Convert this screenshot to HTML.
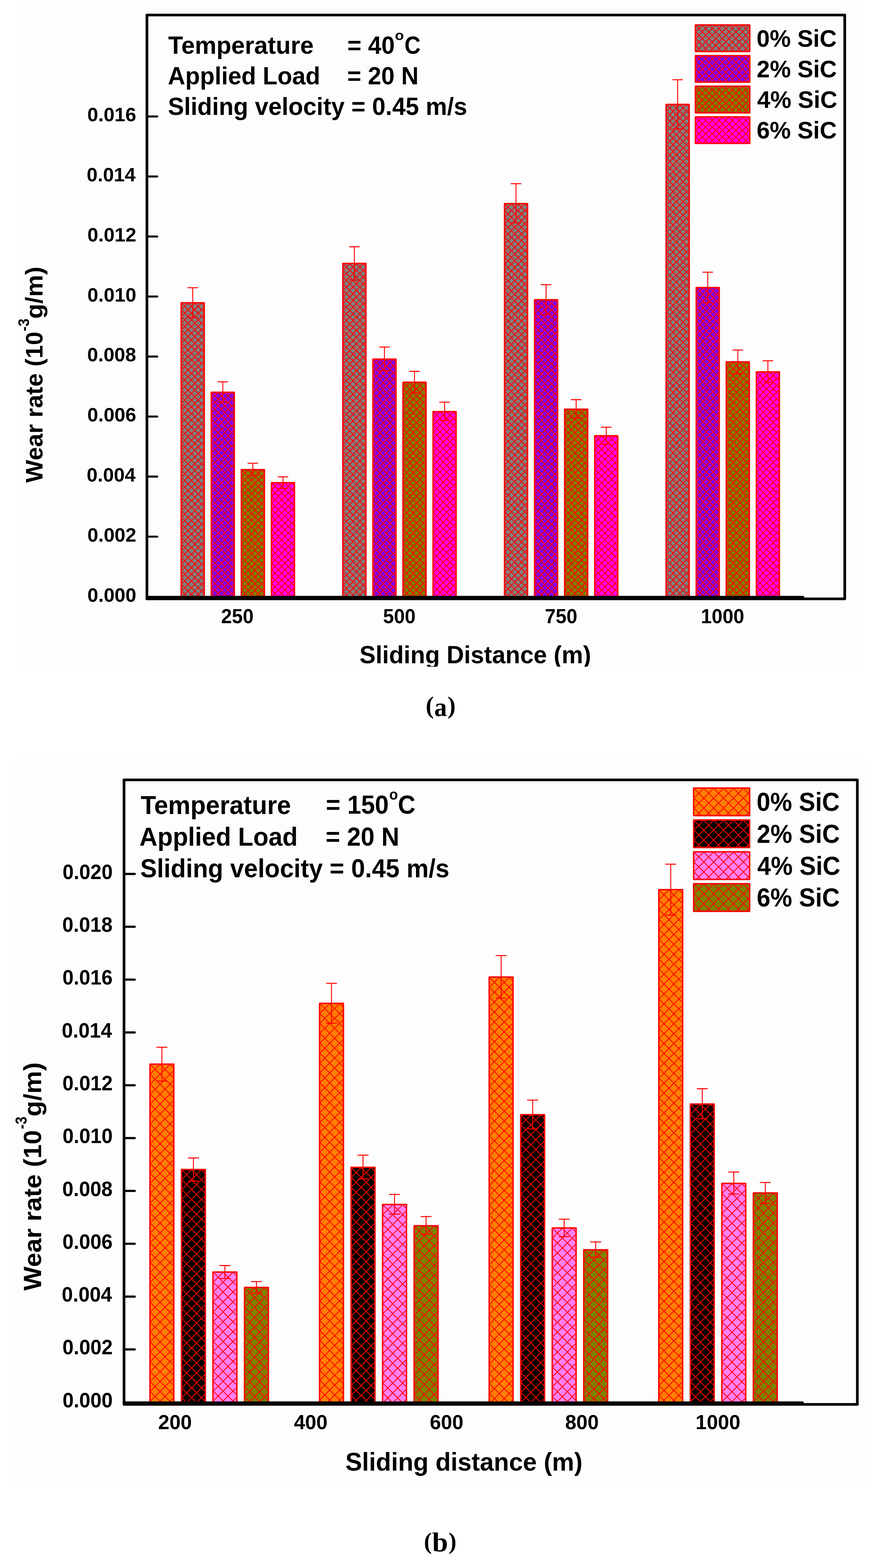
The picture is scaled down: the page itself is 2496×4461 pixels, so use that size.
<!DOCTYPE html><html><head><meta charset="utf-8"><title>Wear rate vs sliding distance</title><style>html,body{margin:0;padding:0;background:#fff;width:2496px;height:4461px;overflow:hidden;}svg{display:block;}</style></head><body>
<svg width="2496" height="4461" viewBox="0 0 2496 4461">
<defs>
<pattern id="ga" patternUnits="userSpaceOnUse" width="19.05" height="19.05">
<rect width="19.05" height="19.05" fill="#808080"/>
<path d="M-1,-1L20.05,20.05M-1,18.05L1,20.05M18.05,-1L20.05,1M20.05,-1L-1,20.05M1,-1L-1,1M20.05,18.05L18.05,20.05" stroke="#ff0000" stroke-width="2.6" fill="none"/>
</pattern>
<pattern id="pa" patternUnits="userSpaceOnUse" width="19.05" height="19.05">
<rect width="19.05" height="19.05" fill="#8000ff"/>
<path d="M-1,-1L20.05,20.05M-1,18.05L1,20.05M18.05,-1L20.05,1M20.05,-1L-1,20.05M1,-1L-1,1M20.05,18.05L18.05,20.05" stroke="#ff0000" stroke-width="2.6" fill="none"/>
</pattern>
<pattern id="oa" patternUnits="userSpaceOnUse" width="19.05" height="19.05">
<rect width="19.05" height="19.05" fill="#808000"/>
<path d="M-1,-1L20.05,20.05M-1,18.05L1,20.05M18.05,-1L20.05,1M20.05,-1L-1,20.05M1,-1L-1,1M20.05,18.05L18.05,20.05" stroke="#ff0000" stroke-width="2.6" fill="none"/>
</pattern>
<pattern id="ma" patternUnits="userSpaceOnUse" width="19.05" height="19.05">
<rect width="19.05" height="19.05" fill="#ff00ff"/>
<path d="M-1,-1L20.05,20.05M-1,18.05L1,20.05M18.05,-1L20.05,1M20.05,-1L-1,20.05M1,-1L-1,1M20.05,18.05L18.05,20.05" stroke="#ff0000" stroke-width="2.6" fill="none"/>
</pattern>
<pattern id="ob" patternUnits="userSpaceOnUse" width="28.2" height="28.2">
<rect width="28.2" height="28.2" fill="#ff8000"/>
<path d="M-1,-1L29.2,29.2M-1,27.2L1,29.2M27.2,-1L29.2,1M29.2,-1L-1,29.2M1,-1L-1,1M29.2,27.2L27.2,29.2" stroke="#ff0000" stroke-width="2.4" fill="none"/>
</pattern>
<pattern id="kb" patternUnits="userSpaceOnUse" width="28.2" height="28.2">
<rect width="28.2" height="28.2" fill="#000000"/>
<path d="M-1,-1L29.2,29.2M-1,27.2L1,29.2M27.2,-1L29.2,1M29.2,-1L-1,29.2M1,-1L-1,1M29.2,27.2L27.2,29.2" stroke="#ff0000" stroke-width="2.4" fill="none"/>
</pattern>
<pattern id="pb" patternUnits="userSpaceOnUse" width="28.2" height="28.2">
<rect width="28.2" height="28.2" fill="#ff80ff"/>
<path d="M-1,-1L29.2,29.2M-1,27.2L1,29.2M27.2,-1L29.2,1M29.2,-1L-1,29.2M1,-1L-1,1M29.2,27.2L27.2,29.2" stroke="#ff0000" stroke-width="2.4" fill="none"/>
</pattern>
<pattern id="vb" patternUnits="userSpaceOnUse" width="28.2" height="28.2">
<rect width="28.2" height="28.2" fill="#808000"/>
<path d="M-1,-1L29.2,29.2M-1,27.2L1,29.2M27.2,-1L29.2,1M29.2,-1L-1,29.2M1,-1L-1,1M29.2,27.2L27.2,29.2" stroke="#ff0000" stroke-width="2.4" fill="none"/>
</pattern>
<clipPath id="clipA"><rect x="0" y="0" width="2496" height="1896.8"/></clipPath>
<clipPath id="clipB"><rect x="0" y="2159" width="2496" height="2069"/></clipPath>
</defs>
<rect width="2496" height="4461" fill="#ffffff"/>
<g clip-path="url(#clipA)">
<rect x="45.8" y="2.7" width="2415.2" height="1894.1" fill="#fdfdfd"/>
<g transform="translate(516.3,862.2)"><rect x="-0.6" y="-0.6" width="65.6" height="838.4" fill="url(#ga)" stroke="#ff0000" stroke-width="4" stroke-linejoin="round"/></g>
<g transform="translate(601.9,1116.7)"><rect x="-0.6" y="-0.6" width="65.6" height="583.9" fill="url(#pa)" stroke="#ff0000" stroke-width="4" stroke-linejoin="round"/></g>
<g transform="translate(687.5,1336.9)"><rect x="-0.6" y="-0.6" width="65.6" height="363.7" fill="url(#oa)" stroke="#ff0000" stroke-width="4" stroke-linejoin="round"/></g>
<g transform="translate(773.1,1373.8)"><rect x="-0.6" y="-0.6" width="65.6" height="326.8" fill="url(#ma)" stroke="#ff0000" stroke-width="4" stroke-linejoin="round"/></g>
<g transform="translate(976.35,750)"><rect x="-0.6" y="-0.6" width="65.6" height="950.6" fill="url(#ga)" stroke="#ff0000" stroke-width="4" stroke-linejoin="round"/></g>
<g transform="translate(1061.95,1022.3)"><rect x="-0.6" y="-0.6" width="65.6" height="678.3" fill="url(#pa)" stroke="#ff0000" stroke-width="4" stroke-linejoin="round"/></g>
<g transform="translate(1147.55,1088.02)"><rect x="-0.6" y="-0.6" width="65.6" height="612.58" fill="url(#oa)" stroke="#ff0000" stroke-width="4" stroke-linejoin="round"/></g>
<g transform="translate(1233.15,1171.6)"><rect x="-0.6" y="-0.6" width="65.6" height="529" fill="url(#ma)" stroke="#ff0000" stroke-width="4" stroke-linejoin="round"/></g>
<g transform="translate(1436.4,579.95)"><rect x="-0.6" y="-0.6" width="65.6" height="1120.65" fill="url(#ga)" stroke="#ff0000" stroke-width="4" stroke-linejoin="round"/></g>
<g transform="translate(1522,853.45)"><rect x="-0.6" y="-0.6" width="65.6" height="847.15" fill="url(#pa)" stroke="#ff0000" stroke-width="4" stroke-linejoin="round"/></g>
<g transform="translate(1607.6,1164.82)"><rect x="-0.6" y="-0.6" width="65.6" height="535.78" fill="url(#oa)" stroke="#ff0000" stroke-width="4" stroke-linejoin="round"/></g>
<g transform="translate(1693.2,1240.3)"><rect x="-0.6" y="-0.6" width="65.6" height="460.3" fill="url(#ma)" stroke="#ff0000" stroke-width="4" stroke-linejoin="round"/></g>
<g transform="translate(1896.45,297.6)"><rect x="-0.6" y="-0.6" width="65.6" height="1403" fill="url(#ga)" stroke="#ff0000" stroke-width="4" stroke-linejoin="round"/></g>
<g transform="translate(1982.05,818.7)"><rect x="-0.6" y="-0.6" width="65.6" height="881.9" fill="url(#pa)" stroke="#ff0000" stroke-width="4" stroke-linejoin="round"/></g>
<g transform="translate(2067.65,1030.1)"><rect x="-0.6" y="-0.6" width="65.6" height="670.5" fill="url(#oa)" stroke="#ff0000" stroke-width="4" stroke-linejoin="round"/></g>
<g transform="translate(2153.25,1058.5)"><rect x="-0.6" y="-0.6" width="65.6" height="642.1" fill="url(#ma)" stroke="#ff0000" stroke-width="4" stroke-linejoin="round"/></g>
<path d="M548.5,818.7V903" stroke="#ff0000" stroke-width="2.6"/>
<path d="M534.65,818.7H562.35M534.65,903H562.35" stroke="#ff0000" stroke-width="2.8" stroke-linecap="round"/>
<path d="M634.1,1086.4V1144.1" stroke="#ff0000" stroke-width="2.6"/>
<path d="M620.25,1086.4H647.95M620.25,1144.1H647.95" stroke="#ff0000" stroke-width="2.8" stroke-linecap="round"/>
<path d="M719.7,1317.8V1353.7" stroke="#ff0000" stroke-width="2.6"/>
<path d="M705.85,1317.8H733.55M705.85,1353.7H733.55" stroke="#ff0000" stroke-width="2.8" stroke-linecap="round"/>
<path d="M805.3,1356.6V1390" stroke="#ff0000" stroke-width="2.6"/>
<path d="M791.45,1356.6H819.15M791.45,1390H819.15" stroke="#ff0000" stroke-width="2.8" stroke-linecap="round"/>
<path d="M1008.55,702V796.9" stroke="#ff0000" stroke-width="2.6"/>
<path d="M994.7,702H1022.4M994.7,796.9H1022.4" stroke="#ff0000" stroke-width="2.8" stroke-linecap="round"/>
<path d="M1094.15,987.3V1054.7" stroke="#ff0000" stroke-width="2.6"/>
<path d="M1080.3,987.3H1108M1080.3,1054.7H1108" stroke="#ff0000" stroke-width="2.8" stroke-linecap="round"/>
<path d="M1179.75,1056.5V1117.2" stroke="#ff0000" stroke-width="2.6"/>
<path d="M1165.9,1056.5H1193.6M1165.9,1117.2H1193.6" stroke="#ff0000" stroke-width="2.8" stroke-linecap="round"/>
<path d="M1265.35,1144.2V1196.6" stroke="#ff0000" stroke-width="2.6"/>
<path d="M1251.5,1144.2H1279.2M1251.5,1196.6H1279.2" stroke="#ff0000" stroke-width="2.8" stroke-linecap="round"/>
<path d="M1468.6,522.7V634.3" stroke="#ff0000" stroke-width="2.6"/>
<path d="M1454.75,522.7H1482.45M1454.75,634.3H1482.45" stroke="#ff0000" stroke-width="2.8" stroke-linecap="round"/>
<path d="M1554.2,809.8V894.2" stroke="#ff0000" stroke-width="2.6"/>
<path d="M1540.35,809.8H1568.05M1540.35,894.2H1568.05" stroke="#ff0000" stroke-width="2.8" stroke-linecap="round"/>
<path d="M1639.8,1137V1189.9" stroke="#ff0000" stroke-width="2.6"/>
<path d="M1625.95,1137H1653.65M1625.95,1189.9H1653.65" stroke="#ff0000" stroke-width="2.8" stroke-linecap="round"/>
<path d="M1725.4,1215.3V1264.1" stroke="#ff0000" stroke-width="2.6"/>
<path d="M1711.55,1215.3H1739.25M1711.55,1264.1H1739.25" stroke="#ff0000" stroke-width="2.8" stroke-linecap="round"/>
<path d="M1928.65,226.9V366.7" stroke="#ff0000" stroke-width="2.6"/>
<path d="M1914.8,226.9H1942.5M1914.8,366.7H1942.5" stroke="#ff0000" stroke-width="2.8" stroke-linecap="round"/>
<path d="M2014.25,774.3V861.7" stroke="#ff0000" stroke-width="2.6"/>
<path d="M2000.4,774.3H2028.1M2000.4,861.7H2028.1" stroke="#ff0000" stroke-width="2.8" stroke-linecap="round"/>
<path d="M2099.85,995.9V1063.3" stroke="#ff0000" stroke-width="2.6"/>
<path d="M2086,995.9H2113.7M2086,1063.3H2113.7" stroke="#ff0000" stroke-width="2.8" stroke-linecap="round"/>
<path d="M2185.45,1026.3V1087.8" stroke="#ff0000" stroke-width="2.6"/>
<path d="M2171.6,1026.3H2199.3M2171.6,1087.8H2199.3" stroke="#ff0000" stroke-width="2.8" stroke-linecap="round"/>
<path d="M418.2,42.8H2404.2V1703.75H418.2Z" fill="none" stroke="#000" stroke-width="7.6" stroke-linejoin="round"/>
<path d="M418.2,1699.2H2285" stroke="#000" stroke-width="7.8" stroke-linecap="round"/>
<text transform="translate(248.86,1711.5) scale(0.9985,1)" font-size="55.65" font-family="Liberation Sans, Arial, sans-serif" font-weight="bold">0.000</text>
<path d="M420,1526.73H447.5" stroke="#000" stroke-width="5.7" stroke-linecap="round"/>
<text transform="translate(248.8,1540.73) scale(0.9985,1)" font-size="55.65" font-family="Liberation Sans, Arial, sans-serif" font-weight="bold">0.002</text>
<path d="M420,1355.96H447.5" stroke="#000" stroke-width="5.7" stroke-linecap="round"/>
<text transform="translate(246.85,1369.96) scale(0.9985,1)" font-size="55.65" font-family="Liberation Sans, Arial, sans-serif" font-weight="bold">0.004</text>
<path d="M420,1185.19H447.5" stroke="#000" stroke-width="5.7" stroke-linecap="round"/>
<text transform="translate(248.58,1199.19) scale(0.9985,1)" font-size="55.65" font-family="Liberation Sans, Arial, sans-serif" font-weight="bold">0.006</text>
<path d="M420,1014.42H447.5" stroke="#000" stroke-width="5.7" stroke-linecap="round"/>
<text transform="translate(248.3,1028.42) scale(0.9985,1)" font-size="55.65" font-family="Liberation Sans, Arial, sans-serif" font-weight="bold">0.008</text>
<path d="M420,843.65H447.5" stroke="#000" stroke-width="5.7" stroke-linecap="round"/>
<text transform="translate(248.86,857.65) scale(0.9985,1)" font-size="55.65" font-family="Liberation Sans, Arial, sans-serif" font-weight="bold">0.010</text>
<path d="M420,672.88H447.5" stroke="#000" stroke-width="5.7" stroke-linecap="round"/>
<text transform="translate(248.8,686.88) scale(0.9985,1)" font-size="55.65" font-family="Liberation Sans, Arial, sans-serif" font-weight="bold">0.012</text>
<path d="M420,502.11H447.5" stroke="#000" stroke-width="5.7" stroke-linecap="round"/>
<text transform="translate(246.85,516.11) scale(0.9985,1)" font-size="55.65" font-family="Liberation Sans, Arial, sans-serif" font-weight="bold">0.014</text>
<path d="M420,331.34H447.5" stroke="#000" stroke-width="5.7" stroke-linecap="round"/>
<text transform="translate(248.58,345.34) scale(0.9985,1)" font-size="55.65" font-family="Liberation Sans, Arial, sans-serif" font-weight="bold">0.016</text>
<text transform="translate(629.26,1772.7) scale(0.9720,1)" font-size="57.06" font-family="Liberation Sans, Arial, sans-serif" font-weight="bold">250</text>
<text transform="translate(1090.32,1772.7) scale(0.9720,1)" font-size="57.06" font-family="Liberation Sans, Arial, sans-serif" font-weight="bold">500</text>
<text transform="translate(1550.69,1772.7) scale(0.9720,1)" font-size="57.06" font-family="Liberation Sans, Arial, sans-serif" font-weight="bold">750</text>
<text transform="translate(1994.71,1772.7) scale(0.9720,1)" font-size="57.06" font-family="Liberation Sans, Arial, sans-serif" font-weight="bold">1000</text>
<text transform="translate(1023.31,1886.5) scale(0.9854,1)" font-size="69.6" font-family="Liberation Sans, Arial, sans-serif" font-weight="bold" >Sliding Distance (m)</text>
<g transform="translate(1979.7,71.6)"><rect x="-0.6" y="-0.6" width="154.8" height="75.6" fill="url(#ga)" stroke="#ff0000" stroke-width="4" stroke-linejoin="round"/></g>
<text transform="translate(2153.21,132.8) scale(0.9707,1)" font-size="69.35" font-family="Liberation Sans, Arial, sans-serif" font-weight="bold">0% SiC</text>
<g transform="translate(1979.7,158.77)"><rect x="-0.6" y="-0.6" width="154.8" height="75.6" fill="url(#pa)" stroke="#ff0000" stroke-width="4" stroke-linejoin="round"/></g>
<text transform="translate(2153.54,219.97) scale(0.9707,1)" font-size="69.35" font-family="Liberation Sans, Arial, sans-serif" font-weight="bold">2% SiC</text>
<g transform="translate(1979.7,245.94)"><rect x="-0.6" y="-0.6" width="154.8" height="75.6" fill="url(#oa)" stroke="#ff0000" stroke-width="4" stroke-linejoin="round"/></g>
<text transform="translate(2154.89,307.14) scale(0.9707,1)" font-size="69.35" font-family="Liberation Sans, Arial, sans-serif" font-weight="bold">4% SiC</text>
<g transform="translate(1979.7,333.11)"><rect x="-0.6" y="-0.6" width="154.8" height="75.6" fill="url(#ma)" stroke="#ff0000" stroke-width="4" stroke-linejoin="round"/></g>
<text transform="translate(2153.41,394.31) scale(0.9707,1)" font-size="69.35" font-family="Liberation Sans, Arial, sans-serif" font-weight="bold">6% SiC</text>
<text transform="translate(478.84,153.3) scale(0.9885,1)" font-size="70" font-family="Liberation Sans, Arial, sans-serif" font-weight="bold" >Temperature</text>
<text transform="translate(988.73,153.3) scale(0.9753,1)" font-size="70" font-family="Liberation Sans, Arial, sans-serif" font-weight="bold" >= 40</text>
<text transform="translate(1123.98,113.9) scale(1.0567,1)" font-size="39.42" font-family="Liberation Sans, Arial, sans-serif" font-weight="bold" >o</text>
<text transform="translate(1151.2,153.3) scale(0.9043,1)" font-size="70" font-family="Liberation Sans, Arial, sans-serif" font-weight="bold" >C</text>
<text transform="translate(477.79,239.9) scale(0.9782,1)" font-size="70" font-family="Liberation Sans, Arial, sans-serif" font-weight="bold" >Applied Load</text>
<text transform="translate(988.23,240) scale(0.9758,1)" font-size="70" font-family="Liberation Sans, Arial, sans-serif" font-weight="bold" >= 20 N</text>
<text transform="translate(477.91,327.2) scale(0.9797,1)" font-size="70" font-family="Liberation Sans, Arial, sans-serif" font-weight="bold" >Sliding velocity = 0.45 m/s</text>
<text transform="translate(120.8,1373.37) rotate(-90) scale(0.9989,1)" font-size="68.7" font-family="Liberation Sans, Arial, sans-serif" font-weight="bold">Wear rate (10</text>
<text transform="translate(82.5,942.18) rotate(-90) scale(0.9193,1)" font-size="44.1" font-family="Liberation Sans, Arial, sans-serif" font-weight="bold">-3</text>
<text transform="translate(120.8,906.88) rotate(-90) scale(1.0229,1)" font-size="68.7" font-family="Liberation Sans, Arial, sans-serif" font-weight="bold">g/m)</text>
</g>
<text transform="translate(1211.42,2030.3) scale(1.0165,1)" font-size="68.9" font-family="Liberation Serif, Times New Roman, serif" font-weight="bold" >(</text>
<text transform="translate(1235.68,2036.6) scale(0.9462,1)" font-size="76.76" font-family="Liberation Serif, Times New Roman, serif" font-weight="bold" >a</text>
<text transform="translate(1273.46,2030.3) scale(1.0165,1)" font-size="68.9" font-family="Liberation Serif, Times New Roman, serif" font-weight="bold" >)</text>
<g clip-path="url(#clipB)">
<rect x="28.9" y="2159" width="2446.1" height="2069" fill="#fdfdfd"/>
<g transform="translate(427.35,3028.2)"><rect x="-0.6" y="-0.6" width="68" height="964.4" fill="url(#ob)" stroke="#ff0000" stroke-width="4" stroke-linejoin="round"/></g>
<g transform="translate(517.05,3327.8)"><rect x="-0.6" y="-0.6" width="68" height="664.8" fill="url(#kb)" stroke="#ff0000" stroke-width="4" stroke-linejoin="round"/></g>
<g transform="translate(606.75,3619.5)"><rect x="-0.6" y="-0.6" width="68" height="373.1" fill="url(#pb)" stroke="#ff0000" stroke-width="4" stroke-linejoin="round"/></g>
<g transform="translate(696.45,3663.4)"><rect x="-0.6" y="-0.6" width="68" height="329.2" fill="url(#vb)" stroke="#ff0000" stroke-width="4" stroke-linejoin="round"/></g>
<g transform="translate(910.1,2855.1)"><rect x="-0.6" y="-0.6" width="68" height="1137.5" fill="url(#ob)" stroke="#ff0000" stroke-width="4" stroke-linejoin="round"/></g>
<g transform="translate(999.8,3321.6)"><rect x="-0.6" y="-0.6" width="68" height="671" fill="url(#kb)" stroke="#ff0000" stroke-width="4" stroke-linejoin="round"/></g>
<g transform="translate(1089.5,3427.42)"><rect x="-0.6" y="-0.6" width="68" height="565.18" fill="url(#pb)" stroke="#ff0000" stroke-width="4" stroke-linejoin="round"/></g>
<g transform="translate(1179.2,3487.85)"><rect x="-0.6" y="-0.6" width="68" height="504.75" fill="url(#vb)" stroke="#ff0000" stroke-width="4" stroke-linejoin="round"/></g>
<g transform="translate(1392.85,2780.4)"><rect x="-0.6" y="-0.6" width="68" height="1212.2" fill="url(#ob)" stroke="#ff0000" stroke-width="4" stroke-linejoin="round"/></g>
<g transform="translate(1482.55,3171.97)"><rect x="-0.6" y="-0.6" width="68" height="820.62" fill="url(#kb)" stroke="#ff0000" stroke-width="4" stroke-linejoin="round"/></g>
<g transform="translate(1572.25,3494.1)"><rect x="-0.6" y="-0.6" width="68" height="498.5" fill="url(#pb)" stroke="#ff0000" stroke-width="4" stroke-linejoin="round"/></g>
<g transform="translate(1661.95,3556.38)"><rect x="-0.6" y="-0.6" width="68" height="436.22" fill="url(#vb)" stroke="#ff0000" stroke-width="4" stroke-linejoin="round"/></g>
<g transform="translate(1875.6,2531.7)"><rect x="-0.6" y="-0.6" width="68" height="1460.9" fill="url(#ob)" stroke="#ff0000" stroke-width="4" stroke-linejoin="round"/></g>
<g transform="translate(1965.3,3141.7)"><rect x="-0.6" y="-0.6" width="68" height="850.9" fill="url(#kb)" stroke="#ff0000" stroke-width="4" stroke-linejoin="round"/></g>
<g transform="translate(2055,3367.4)"><rect x="-0.6" y="-0.6" width="68" height="625.2" fill="url(#pb)" stroke="#ff0000" stroke-width="4" stroke-linejoin="round"/></g>
<g transform="translate(2144.7,3394.7)"><rect x="-0.6" y="-0.6" width="68" height="597.9" fill="url(#vb)" stroke="#ff0000" stroke-width="4" stroke-linejoin="round"/></g>
<path d="M460.75,2979.4V3075.6" stroke="#ff0000" stroke-width="2.6"/>
<path d="M446.25,2979.4H475.25M446.25,3075.6H475.25" stroke="#ff0000" stroke-width="2.8" stroke-linecap="round"/>
<path d="M550.45,3294.4V3360.5" stroke="#ff0000" stroke-width="2.6"/>
<path d="M535.95,3294.4H564.95M535.95,3360.5H564.95" stroke="#ff0000" stroke-width="2.8" stroke-linecap="round"/>
<path d="M640.15,3600.5V3637.3" stroke="#ff0000" stroke-width="2.6"/>
<path d="M625.65,3600.5H654.65M625.65,3637.3H654.65" stroke="#ff0000" stroke-width="2.8" stroke-linecap="round"/>
<path d="M729.85,3646.1V3678.8" stroke="#ff0000" stroke-width="2.6"/>
<path d="M715.35,3646.1H744.35M715.35,3678.8H744.35" stroke="#ff0000" stroke-width="2.8" stroke-linecap="round"/>
<path d="M943.5,2797.6V2911.2" stroke="#ff0000" stroke-width="2.6"/>
<path d="M929,2797.6H958M929,2911.2H958" stroke="#ff0000" stroke-width="2.8" stroke-linecap="round"/>
<path d="M1033.2,3286.4V3353.8" stroke="#ff0000" stroke-width="2.6"/>
<path d="M1018.7,3286.4H1047.7M1018.7,3353.8H1047.7" stroke="#ff0000" stroke-width="2.8" stroke-linecap="round"/>
<path d="M1122.9,3398.2V3454.1" stroke="#ff0000" stroke-width="2.6"/>
<path d="M1108.4,3398.2H1137.4M1108.4,3454.1H1137.4" stroke="#ff0000" stroke-width="2.8" stroke-linecap="round"/>
<path d="M1212.6,3461.2V3511.6" stroke="#ff0000" stroke-width="2.6"/>
<path d="M1198.1,3461.2H1227.1M1198.1,3511.6H1227.1" stroke="#ff0000" stroke-width="2.8" stroke-linecap="round"/>
<path d="M1426.25,2718.6V2839.8" stroke="#ff0000" stroke-width="2.6"/>
<path d="M1411.75,2718.6H1440.75M1411.75,2839.8H1440.75" stroke="#ff0000" stroke-width="2.8" stroke-linecap="round"/>
<path d="M1515.95,3129.9V3211.8" stroke="#ff0000" stroke-width="2.6"/>
<path d="M1501.45,3129.9H1530.45M1501.45,3211.8H1530.45" stroke="#ff0000" stroke-width="2.8" stroke-linecap="round"/>
<path d="M1605.65,3468.7V3518.3" stroke="#ff0000" stroke-width="2.6"/>
<path d="M1591.15,3468.7H1620.15M1591.15,3518.3H1620.15" stroke="#ff0000" stroke-width="2.8" stroke-linecap="round"/>
<path d="M1695.35,3533.4V3576.9" stroke="#ff0000" stroke-width="2.6"/>
<path d="M1680.85,3533.4H1709.85M1680.85,3576.9H1709.85" stroke="#ff0000" stroke-width="2.8" stroke-linecap="round"/>
<path d="M1909,2458.7V2603.7" stroke="#ff0000" stroke-width="2.6"/>
<path d="M1894.5,2458.7H1923.5M1894.5,2603.7H1923.5" stroke="#ff0000" stroke-width="2.8" stroke-linecap="round"/>
<path d="M1998.7,3097.5V3183.1" stroke="#ff0000" stroke-width="2.6"/>
<path d="M1984.2,3097.5H2013.2M1984.2,3183.1H2013.2" stroke="#ff0000" stroke-width="2.8" stroke-linecap="round"/>
<path d="M2088.4,3334.6V3397.1" stroke="#ff0000" stroke-width="2.6"/>
<path d="M2073.9,3334.6H2102.9M2073.9,3397.1H2102.9" stroke="#ff0000" stroke-width="2.8" stroke-linecap="round"/>
<path d="M2178.1,3364.2V3423.9" stroke="#ff0000" stroke-width="2.6"/>
<path d="M2163.6,3364.2H2192.6M2163.6,3423.9H2192.6" stroke="#ff0000" stroke-width="2.8" stroke-linecap="round"/>
<path d="M352.95,2218.75H2440V3995.55H352.95Z" fill="none" stroke="#000" stroke-width="7.6" stroke-linejoin="round"/>
<path d="M352.95,3991H2283.7" stroke="#000" stroke-width="7.8" stroke-linecap="round"/>
<text transform="translate(177.92,4003.7) scale(0.9739,1)" font-size="58.62" font-family="Liberation Sans, Arial, sans-serif" font-weight="bold">0.000</text>
<path d="M355,3839.1H383.4" stroke="#000" stroke-width="6.2" stroke-linecap="round"/>
<text transform="translate(177.86,3853.4) scale(0.9739,1)" font-size="58.62" font-family="Liberation Sans, Arial, sans-serif" font-weight="bold">0.002</text>
<path d="M355,3688.8H383.4" stroke="#000" stroke-width="6.2" stroke-linecap="round"/>
<text transform="translate(175.86,3703.1) scale(0.9739,1)" font-size="58.62" font-family="Liberation Sans, Arial, sans-serif" font-weight="bold">0.004</text>
<path d="M355,3538.5H383.4" stroke="#000" stroke-width="6.2" stroke-linecap="round"/>
<text transform="translate(177.63,3552.8) scale(0.9739,1)" font-size="58.62" font-family="Liberation Sans, Arial, sans-serif" font-weight="bold">0.006</text>
<path d="M355,3388.2H383.4" stroke="#000" stroke-width="6.2" stroke-linecap="round"/>
<text transform="translate(177.35,3402.5) scale(0.9739,1)" font-size="58.62" font-family="Liberation Sans, Arial, sans-serif" font-weight="bold">0.008</text>
<path d="M355,3237.9H383.4" stroke="#000" stroke-width="6.2" stroke-linecap="round"/>
<text transform="translate(177.92,3252.2) scale(0.9739,1)" font-size="58.62" font-family="Liberation Sans, Arial, sans-serif" font-weight="bold">0.010</text>
<path d="M355,3087.6H383.4" stroke="#000" stroke-width="6.2" stroke-linecap="round"/>
<text transform="translate(177.86,3101.9) scale(0.9739,1)" font-size="58.62" font-family="Liberation Sans, Arial, sans-serif" font-weight="bold">0.012</text>
<path d="M355,2937.3H383.4" stroke="#000" stroke-width="6.2" stroke-linecap="round"/>
<text transform="translate(175.86,2951.6) scale(0.9739,1)" font-size="58.62" font-family="Liberation Sans, Arial, sans-serif" font-weight="bold">0.014</text>
<path d="M355,2787H383.4" stroke="#000" stroke-width="6.2" stroke-linecap="round"/>
<text transform="translate(177.63,2801.3) scale(0.9739,1)" font-size="58.62" font-family="Liberation Sans, Arial, sans-serif" font-weight="bold">0.016</text>
<path d="M355,2636.7H383.4" stroke="#000" stroke-width="6.2" stroke-linecap="round"/>
<text transform="translate(177.35,2651) scale(0.9739,1)" font-size="58.62" font-family="Liberation Sans, Arial, sans-serif" font-weight="bold">0.018</text>
<path d="M355,2486.4H383.4" stroke="#000" stroke-width="6.2" stroke-linecap="round"/>
<text transform="translate(177.92,2500.7) scale(0.9739,1)" font-size="58.62" font-family="Liberation Sans, Arial, sans-serif" font-weight="bold">0.020</text>
<text transform="translate(450.34,4066) scale(0.9855,1)" font-size="58.19" font-family="Liberation Sans, Arial, sans-serif" font-weight="bold">200</text>
<text transform="translate(836.42,4066) scale(0.9855,1)" font-size="58.19" font-family="Liberation Sans, Arial, sans-serif" font-weight="bold">400</text>
<text transform="translate(1223.19,4066) scale(0.9855,1)" font-size="58.19" font-family="Liberation Sans, Arial, sans-serif" font-weight="bold">600</text>
<text transform="translate(1608.43,4066) scale(0.9855,1)" font-size="58.19" font-family="Liberation Sans, Arial, sans-serif" font-weight="bold">800</text>
<text transform="translate(1979.5,4066) scale(0.9855,1)" font-size="58.19" font-family="Liberation Sans, Arial, sans-serif" font-weight="bold">1000</text>
<text transform="translate(982.94,4184) scale(0.9924,1)" font-size="71.6" font-family="Liberation Sans, Arial, sans-serif" font-weight="bold" >Sliding distance (m)</text>
<g transform="translate(1974.7,2242.6)"><rect x="-0.6" y="-0.6" width="159.4" height="78.6" fill="url(#ob)" stroke="#ff0000" stroke-width="4" stroke-linejoin="round"/></g>
<text transform="translate(2153.51,2307.1) scale(0.9425,1)" font-size="74.01" font-family="Liberation Sans, Arial, sans-serif" font-weight="bold">0% SiC</text>
<g transform="translate(1974.7,2333.35)"><rect x="-0.6" y="-0.6" width="159.4" height="78.6" fill="url(#kb)" stroke="#ff0000" stroke-width="4" stroke-linejoin="round"/></g>
<text transform="translate(2153.86,2397.85) scale(0.9425,1)" font-size="74.01" font-family="Liberation Sans, Arial, sans-serif" font-weight="bold">2% SiC</text>
<g transform="translate(1974.7,2424.1)"><rect x="-0.6" y="-0.6" width="159.4" height="78.6" fill="url(#pb)" stroke="#ff0000" stroke-width="4" stroke-linejoin="round"/></g>
<text transform="translate(2155.25,2488.6) scale(0.9425,1)" font-size="74.01" font-family="Liberation Sans, Arial, sans-serif" font-weight="bold">4% SiC</text>
<g transform="translate(1974.7,2514.85)"><rect x="-0.6" y="-0.6" width="159.4" height="78.6" fill="url(#vb)" stroke="#ff0000" stroke-width="4" stroke-linejoin="round"/></g>
<text transform="translate(2153.72,2579.35) scale(0.9425,1)" font-size="74.01" font-family="Liberation Sans, Arial, sans-serif" font-weight="bold">6% SiC</text>
<text transform="translate(400.41,2316.1) scale(0.9687,1)" font-size="73.8" font-family="Liberation Sans, Arial, sans-serif" font-weight="bold" >Temperature</text>
<text transform="translate(927.53,2315.3) scale(0.9580,1)" font-size="73.8" font-family="Liberation Sans, Arial, sans-serif" font-weight="bold" >= 150</text>
<text transform="translate(1108.03,2274.9) scale(0.9650,1)" font-size="41.61" font-family="Liberation Sans, Arial, sans-serif" font-weight="bold" >o</text>
<text transform="translate(1132.58,2315.3) scale(0.9323,1)" font-size="73.8" font-family="Liberation Sans, Arial, sans-serif" font-weight="bold" >C</text>
<text transform="translate(396.82,2406.3) scale(0.9641,1)" font-size="73.8" font-family="Liberation Sans, Arial, sans-serif" font-weight="bold" >Applied Load</text>
<text transform="translate(926.74,2406) scale(0.9558,1)" font-size="73.8" font-family="Liberation Sans, Arial, sans-serif" font-weight="bold" >= 20 N</text>
<text transform="translate(399.15,2495.6) scale(0.9598,1)" font-size="73.8" font-family="Liberation Sans, Arial, sans-serif" font-weight="bold" >Sliding velocity = 0.45 m/s</text>
<text transform="translate(116.7,3672.07) rotate(-90) scale(1.0366,1)" font-size="70.4" font-family="Liberation Sans, Arial, sans-serif" font-weight="bold">Wear rate (10</text>
<text transform="translate(75.7,3212.48) rotate(-90) scale(0.8930,1)" font-size="45.4" font-family="Liberation Sans, Arial, sans-serif" font-weight="bold">-3</text>
<text transform="translate(116.7,3176.39) rotate(-90) scale(1.0358,1)" font-size="70.4" font-family="Liberation Sans, Arial, sans-serif" font-weight="bold">g/m)</text>
</g>
<text transform="translate(1206.6,4407.1) scale(1.0014,1)" font-size="68" font-family="Liberation Serif, Times New Roman, serif" font-weight="bold" >(</text>
<text transform="translate(1229.95,4414) scale(1.0308,1)" font-size="78.69" font-family="Liberation Serif, Times New Roman, serif" font-weight="bold" >b</text>
<text transform="translate(1276.42,4407.1) scale(1.0014,1)" font-size="68" font-family="Liberation Serif, Times New Roman, serif" font-weight="bold" >)</text>
</svg></body></html>
